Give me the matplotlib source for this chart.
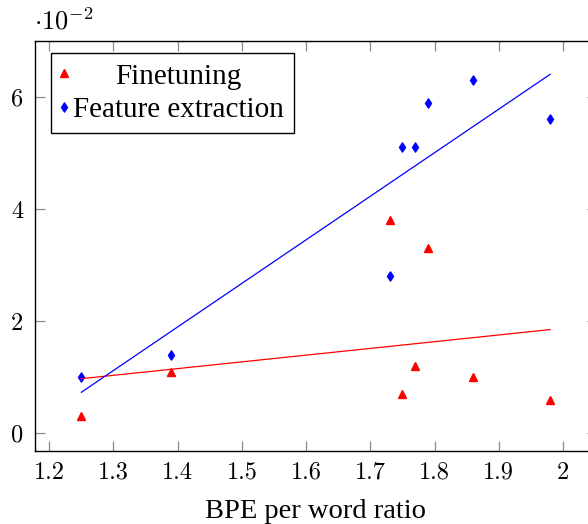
import numpy as np
import matplotlib
matplotlib.use('Agg')
import matplotlib.pyplot as plt
from matplotlib.path import Path

plt.rcParams['font.family'] = 'Liberation Serif'
plt.rcParams['mathtext.fontset'] = 'cm'

# BPE per word ratio for each language pair
bpe_ratio = [1.25, 1.39, 1.73, 1.75, 1.77, 1.79, 1.86, 1.98]
# values in units of 1e-2
finetuning = [0.3, 1.1, 3.8, 0.7, 1.2, 3.3, 1.0, 0.6]
feature_extraction = [1.0, 1.4, 2.8, 5.1, 5.1, 5.9, 6.3, 5.6]

x = np.array(bpe_ratio)
ft = np.array(finetuning)
fe = np.array(feature_extraction)

fig = plt.figure(figsize=(5.88, 5.24), dpi=100)
ax = fig.add_axes([34.5 / 588, 73.5 / 524, 562.5 / 588, 409 / 524])

# pgfplots-like diamond (narrower than square)
diamond = Path([(0, 1), (0.66, 0), (0, -1), (-0.66, 0), (0, 1)],
               [Path.MOVETO, Path.LINETO, Path.LINETO, Path.LINETO, Path.CLOSEPOLY])

ax.plot(x, ft, linestyle='none', marker='^', color='red', markersize=5.6, label='Finetuning')
ax.plot(x, fe, linestyle='none', marker=diamond, color='blue', markersize=6.6, label='Feature extraction')

# linear regression lines
xs = np.array([x.min(), x.max()])
p_ft = np.polyfit(x, ft, 1)
p_fe = np.polyfit(x, fe, 1)
ax.plot(xs, np.polyval(p_ft, xs), color='red', linewidth=0.9)
ax.plot(xs, np.polyval(p_fe, xs), color='blue', linewidth=0.9)

ax.set_xlim(1.177, 2.053)
ax.set_ylim(-0.31, 6.99)
ax.set_xticks([1.2, 1.3, 1.4, 1.5, 1.6, 1.7, 1.8, 1.9, 2.0])
ax.set_xticklabels(['1.2', '1.3', '1.4', '1.5', '1.6', '1.7', '1.8', '1.9', '2'])
ax.set_yticks([0, 2, 4, 6])
ax.set_yticklabels(['0', '2', '4', '6'])
ax.tick_params(direction='in', length=7.5, width=0.9, color='#8c8c8c',
               top=True, right=True, labelsize=17.5, pad=8)
for lab in ax.get_xticklabels() + ax.get_yticklabels():
    lab.set_fontfamily('cmr10')
for s in ax.spines.values():
    s.set_linewidth(1.0)

ax.set_xlabel('BPE per word ratio', fontsize=20.5, labelpad=11)
fig.text(34 / 588, 1 - 29 / 524, r'$\cdot 10^{-2}$', fontsize=19, ha='left', va='baseline')

leg = ax.legend(loc='upper left', bbox_to_anchor=(51 / 588, 1 - 53 / 524),
                bbox_transform=fig.transFigure, borderaxespad=0,
                fontsize=21, frameon=True, fancybox=False,
                edgecolor='black', framealpha=1, handlelength=0.2, handletextpad=0.2,
                borderpad=0.35, labelspacing=0.24)
leg.get_frame().set_linewidth(1.0)

# centre the shorter entry within the legend column, as pgfplots does
fig.canvas.draw()
r = fig.canvas.get_renderer()
widths = [t.get_window_extent(r).width for t in leg.get_texts()]
leg.get_texts()[0].set_x((max(widths) - widths[0]) / 2)

fig.savefig('out.png', dpi=100)
